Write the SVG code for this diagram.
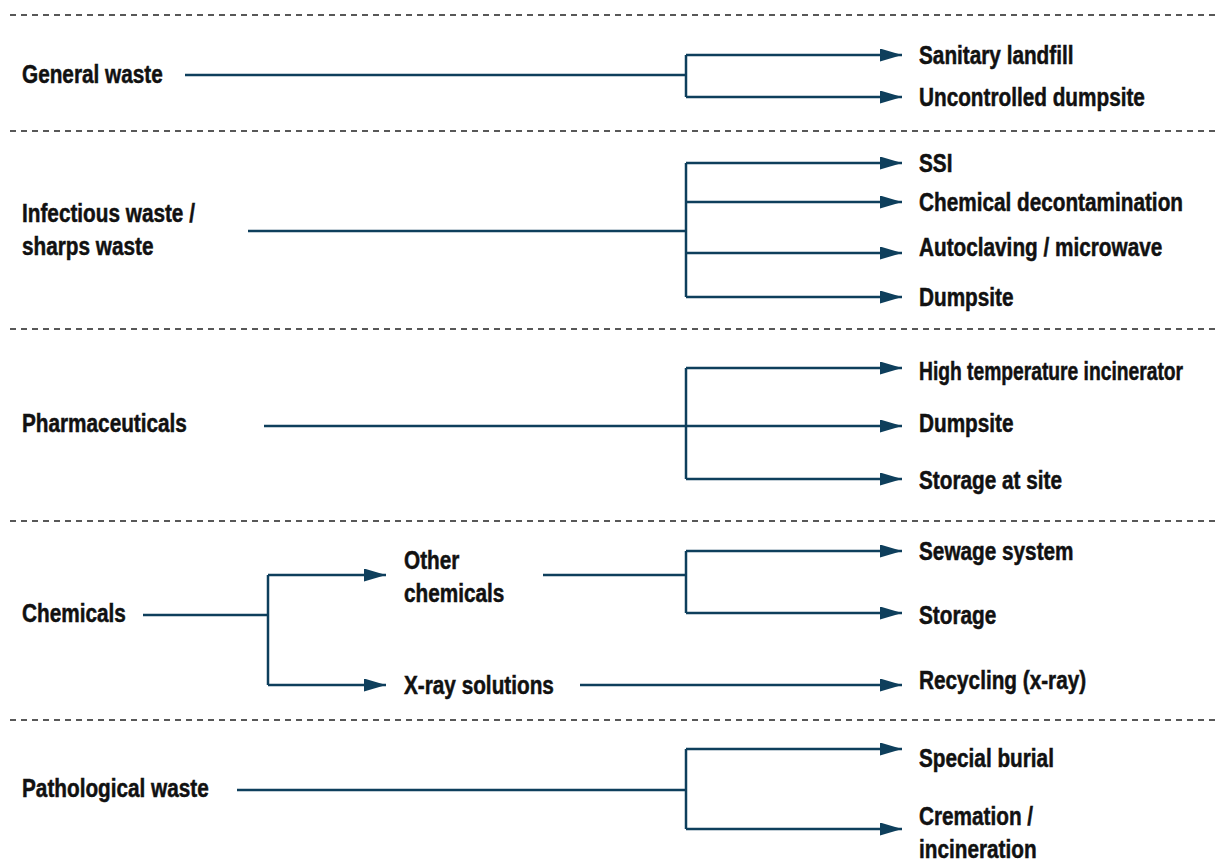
<svg xmlns="http://www.w3.org/2000/svg" width="1218" height="862" viewBox="0 0 1218 862">
<style>
  .t { font-family: "Liberation Sans", Arial, sans-serif; font-weight: bold; font-size: 25px; fill: #111; stroke: #111; stroke-width: 0.5; }
  .sep { stroke: #222; stroke-width: 1.5; stroke-dasharray: 6 5; fill: none; }
  .c { stroke: #0e3f5c; stroke-width: 2.5; fill: none; }
  .ah { fill: #0e3f5c; }
</style>
<defs>
  <marker id="arr" markerUnits="userSpaceOnUse" markerWidth="22" markerHeight="13" refX="22" refY="6.5" orient="auto">
    <path d="M0,0 L22,6.5 L0,13 Z" class="ah"/>
  </marker>
</defs>
<g id="separators">
  <line class="sep" x1="10" y1="15" x2="1216" y2="15"/>
  <line class="sep" x1="10" y1="131" x2="1216" y2="131"/>
  <line class="sep" x1="10" y1="329" x2="1216" y2="329"/>
  <line class="sep" x1="10" y1="521" x2="1216" y2="521"/>
  <line class="sep" x1="10" y1="720" x2="1216" y2="720"/>
</g>
<g id="connectors">
  <path class="c" d="M185,75 H686"/>
  <path class="c" d="M686,55 V97"/>
  <path class="c" marker-end="url(#arr)" d="M686,55 H902"/>
  <path class="c" marker-end="url(#arr)" d="M686,97 H902"/>
  <path class="c" d="M248,231 H686"/>
  <path class="c" d="M686,163 V297"/>
  <path class="c" marker-end="url(#arr)" d="M686,163 H902"/>
  <path class="c" marker-end="url(#arr)" d="M686,202 H902"/>
  <path class="c" marker-end="url(#arr)" d="M686,253 H902"/>
  <path class="c" marker-end="url(#arr)" d="M686,297 H902"/>
  <path class="c" d="M686,368 V479"/>
  <path class="c" marker-end="url(#arr)" d="M686,368 H902"/>
  <path class="c" marker-end="url(#arr)" d="M264,426 H902"/>
  <path class="c" marker-end="url(#arr)" d="M686,479 H902"/>
  <path class="c" d="M143,615 H268"/>
  <path class="c" d="M268,575 V685"/>
  <path class="c" marker-end="url(#arr)" d="M268,575 H386"/>
  <path class="c" marker-end="url(#arr)" d="M268,685 H386"/>
  <path class="c" d="M543,575 H686"/>
  <path class="c" d="M686,551 V613"/>
  <path class="c" marker-end="url(#arr)" d="M686,551 H902"/>
  <path class="c" marker-end="url(#arr)" d="M686,613 H902"/>
  <path class="c" marker-end="url(#arr)" d="M580,685 H902"/>
  <path class="c" d="M237,790 H686"/>
  <path class="c" d="M686,749 V829"/>
  <path class="c" marker-end="url(#arr)" d="M686,749 H902"/>
  <path class="c" marker-end="url(#arr)" d="M686,829 H902"/>
</g>
<g id="n-general" transform="translate(22,83) scale(0.83,1)"><text class="t">General waste</text></g>
<g id="n-sanitary" transform="translate(919,64) scale(0.83,1)"><text class="t">Sanitary landfill</text></g>
<g id="n-uncontrolled" transform="translate(919,106) scale(0.83,1)"><text class="t">Uncontrolled dumpsite</text></g>
<g id="n-infectious" transform="translate(22,222) scale(0.83,1)"><text class="t">Infectious waste /</text><text class="t" y="33">sharps waste</text></g>
<g id="n-ssi" transform="translate(919,172) scale(0.83,1)"><text class="t">SSI</text></g>
<g id="n-chemdecon" transform="translate(919,211) scale(0.83,1)"><text class="t">Chemical decontamination</text></g>
<g id="n-autoclave" transform="translate(919,256) scale(0.83,1)"><text class="t">Autoclaving / microwave</text></g>
<g id="n-dumpsite1" transform="translate(919,306) scale(0.83,1)"><text class="t">Dumpsite</text></g>
<g id="n-pharma" transform="translate(22,432) scale(0.83,1)"><text class="t">Pharmaceuticals</text></g>
<g id="n-hightemp" transform="translate(919,380) scale(0.77,1)"><text class="t">High temperature incinerator</text></g>
<g id="n-dumpsite2" transform="translate(919,432) scale(0.83,1)"><text class="t">Dumpsite</text></g>
<g id="n-storagesite" transform="translate(919,489) scale(0.83,1)"><text class="t">Storage at site</text></g>
<g id="n-chemicals" transform="translate(22,622) scale(0.83,1)"><text class="t">Chemicals</text></g>
<g id="n-otherchem" transform="translate(404,569) scale(0.83,1)"><text class="t">Other</text><text class="t" y="33">chemicals</text></g>
<g id="n-xray" transform="translate(404,694) scale(0.83,1)"><text class="t">X-ray solutions</text></g>
<g id="n-sewage" transform="translate(919,560) scale(0.83,1)"><text class="t">Sewage system</text></g>
<g id="n-storage" transform="translate(919,624) scale(0.83,1)"><text class="t">Storage</text></g>
<g id="n-recycling" transform="translate(919,689) scale(0.83,1)"><text class="t">Recycling (x-ray)</text></g>
<g id="n-patho" transform="translate(22,797) scale(0.83,1)"><text class="t">Pathological waste</text></g>
<g id="n-burial" transform="translate(919,767) scale(0.83,1)"><text class="t">Special burial</text></g>
<g id="n-cremation" transform="translate(919,825) scale(0.83,1)"><text class="t">Cremation /</text><text class="t" y="33">incineration</text></g>
</svg>
